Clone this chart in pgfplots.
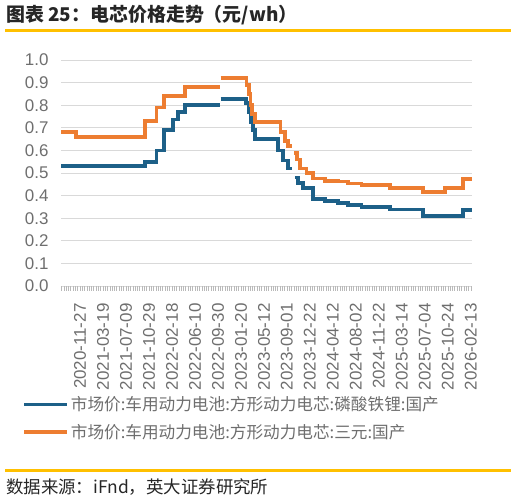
\documentclass[border=0pt]{standalone}
\usepackage{fontspec}
\setmainfont{Liberation Sans}
\newfontfamily\cjk{Noto Sans CJK SC}
\usepackage{pgfplots}
\pgfplotsset{compat=1.18}
\definecolor{lfp}{HTML}{1D6088}
\definecolor{ncm}{HTML}{ED7D31}
\definecolor{rulec}{HTML}{FFC000}
\definecolor{gridc}{HTML}{D9D9D9}
\definecolor{txt}{HTML}{6E6E6E}
\begin{document}
\begin{tikzpicture}[x=1bp,y=1bp]
\useasboundingbox (0,0) rectangle (517,502);
\node[anchor=base west, inner sep=0, text=black!85,
      font=\cjk\bfseries\fontsize{19}{21}\selectfont] at (6,480)
  {图表 25：电芯价格走势（元/wh）};
\draw[rulec, line width=3bp] (5,471) -- (511,471);
\draw[rulec, line width=3bp] (5,31) -- (511,31);
\node[anchor=base west, inner sep=0, text=black!85,
      font=\cjk\fontsize{17.5}{19}\selectfont] at (6,8)
  {数据来源：iFnd，英大证券研究所};

% x in weeks from 2020-11-27
\begin{axis}[
  at={(61bp,216bp)}, anchor=south west,
  scale only axis, width=411bp, height=226bp,
  xmin=-13.2, xmax=272.8, ymin=0, ymax=1.0,
  axis line style={draw=none},
  ymajorgrids, grid style={gridc, line width=0.9bp},
  ytick={0,0.1,...,1.0},
  yticklabel style={/pgf/number format/fixed, /pgf/number format/fixed zerofill,
    /pgf/number format/precision=1, xshift=-4bp},
  ytick style={draw=none},
  xtick={0,16,...,272},
  xticklabels={2020-11-27,2021-03-19,2021-07-09,2021-10-29,2022-02-18,2022-06-10,
    2022-09-30,2023-01-20,2023-05-12,2023-09-01,2023-12-22,2024-04-12,2024-08-02,
    2024-11-22,2025-03-14,2025-07-04,2025-10-24,2026-02-13},
  minor xtick={-12.8,-11.2,...,272},
  xtick pos=lower, tick align=outside,
  major tick length=5bp, minor tick length=5bp,
  tick style={color=gray!55, line width=0.6bp},
  xticklabel style={rotate=90, anchor=east, xshift=-9bp},
  tick label style={font=\fontsize{17}{18}\selectfont, text=txt},
  /pgf/number format/assume math mode=true,
  unbounded coords=jump,
  legend style={at={(-0.095,-0.48)}, anchor=north west, draw=none, fill=none,
    inner sep=0pt, row sep=8bp, text=txt,
    font=\cjk\fontsize{16.7}{19}\selectfont},
  legend cell align=left,
  legend image code/.code={\draw[#1] (0bp,0bp) -- (43bp,0bp);},
]
\addplot[lfp, line width=3.75bp, const plot mark left] coordinates {
  (-13.2,0.531) (45.3,0.55) (53.3,0.60) (58.7,0.69) (64.5,0.737) (68.0,0.77)
  (73.0,0.80) (97.2,0.80) (97.5,nan) (97.9,0.826) (115.3,0.81) (117.4,0.77)
  (118.8,0.725) (120.3,0.69) (121.8,0.651) (137.7,0.60) (141.3,0.555)
  (144.7,0.52) (147.5,0.52) (148.1,nan) (149.6,0.48) (151.7,0.455)
  (155.1,0.432) (162.4,0.385) (170.4,0.376) (179.7,0.366) (186.7,0.358)
  (195.9,0.351) (215.7,0.339) (238.9,0.31) (266.7,0.336) (272.8,0.336)
};
\addlegendentry{市场价:车用动力电池:方形动力电芯:磷酸铁锂:国产}
\addplot[ncm, line width=3.75bp, const plot mark left] coordinates {
  (-13.2,0.68) (-2.8,0.66) (45.3,0.73) (53.3,0.79) (58.7,0.84) (73.0,0.882)
  (97.2,0.882) (97.5,nan) (97.9,0.92) (115.9,0.89) (117.4,0.85) (118.6,0.80)
  (119.9,0.76) (121.8,0.727) (139.5,0.68) (142.6,0.64) (144.9,0.62)
  (147.5,0.62) (148.1,nan) (148.9,0.59) (150.8,0.56) (153.0,0.52)
  (157.7,0.50) (162.4,0.476) (170.4,0.466) (179.7,0.462) (186.7,0.454)
  (195.9,0.447) (215.7,0.435) (238.9,0.415) (254.0,0.432) (266.7,0.472)
  (272.8,0.472)
};
\addlegendentry{市场价:车用动力电池:方形动力电芯:三元:国产}
\end{axis}
\end{tikzpicture}
\end{document}
